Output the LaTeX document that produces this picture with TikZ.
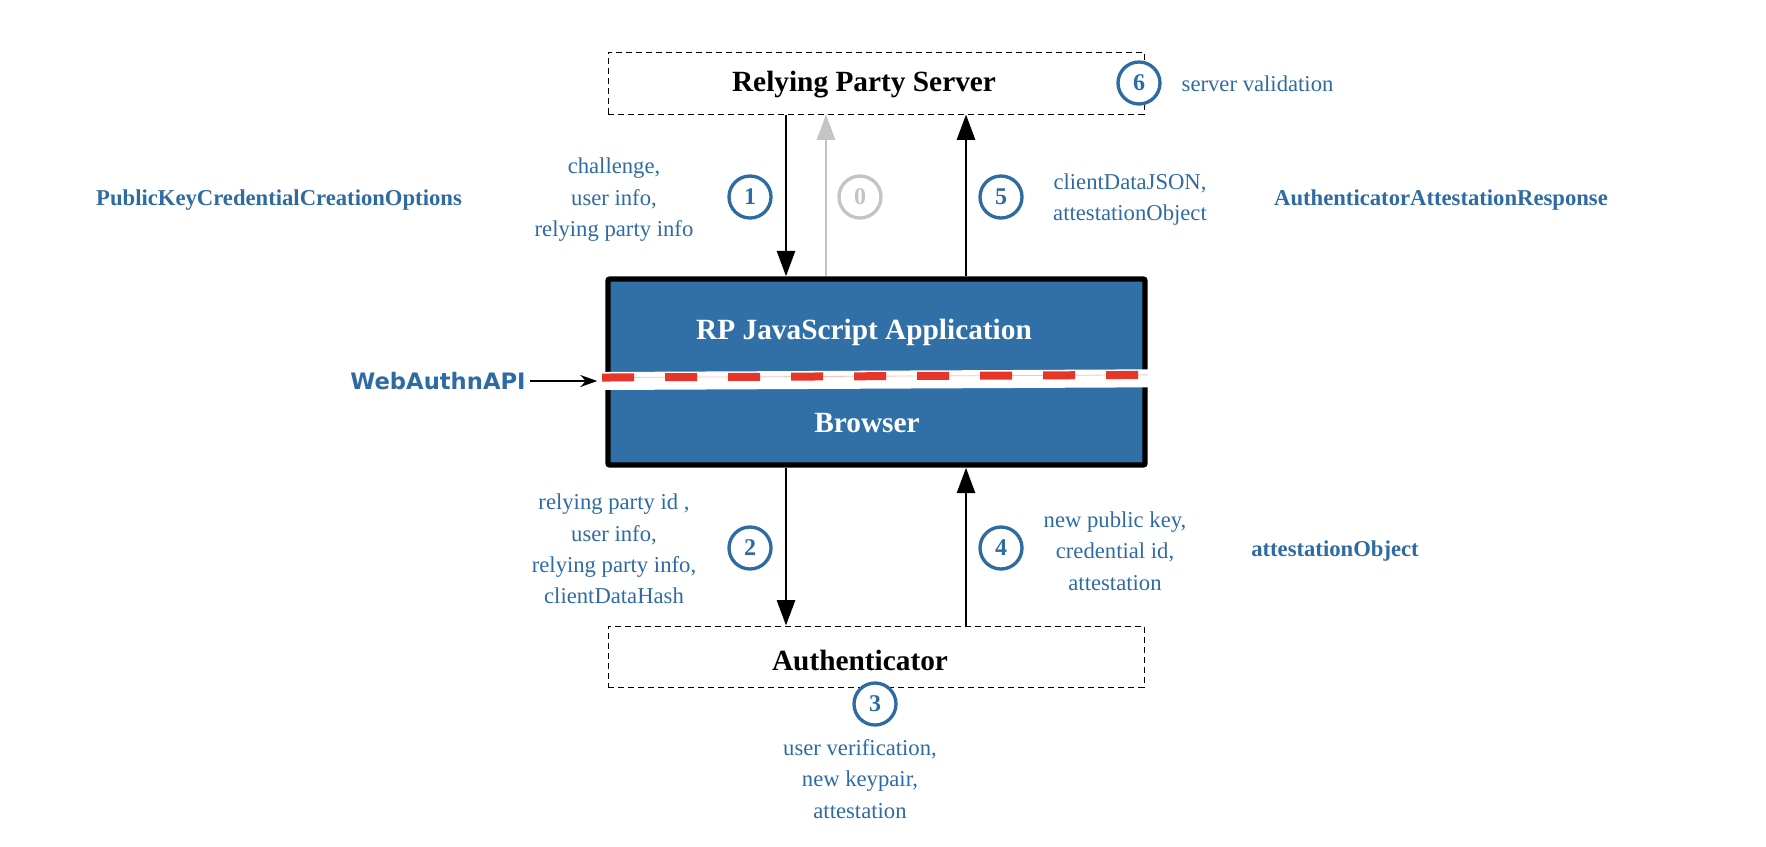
\documentclass[tikz,border=0pt]{standalone}
\usepackage{fontspec}
\setmainfont{Liberation Serif}
\newfontfamily\apifont{DejaVu Sans}
\usetikzlibrary{arrows.meta,positioning}

\begin{document}
\begin{tikzpicture}[x=0.75pt,y=-0.75pt,
  partybox/.style={draw=black,line width=0.75pt,dash pattern=on 4.5pt off 3pt,minimum width=402pt,inner sep=0pt},
  title/.style={font=\bfseries\fontsize{22}{26}\selectfont},
  info/.style={text=cblue,align=center,font=\fontsize{17}{23.6}\selectfont},
  apiname/.style={text=cblue,font=\bfseries\fontsize{17}{20}\selectfont},
  num/.style={circle,draw=cblue,fill=white,line width=2.5pt,text=cblue,minimum size=31.5pt,inner sep=0pt,font=\bfseries\fontsize{18}{18}\selectfont},
  flow/.style={draw=black,line width=2pt,-{Triangle[length=19pt,width=13.5pt]}},
]
%
\useasboundingbox (0,0) rectangle (1766,846);
%
\definecolor{cblue}{rgb}{0.18,0.42,0.64}
\definecolor{cfapp}{rgb}{0.19,0.44,0.65}
\definecolor{cgray}{rgb}{0.77,0.77,0.77}
\definecolor{cred}{rgb}{0.90,0.21,0.16}
%
\node[partybox,minimum height=46.5pt] (rps) at (876,83) {};
\node[title] (rpsname) at (864,85) {Relying Party Server};
\node[draw=black,fill=cfapp,line width=4.1pt,rounded corners=1.5pt,minimum width=402.75pt,minimum height=139.5pt,inner sep=0pt] (app) at (876.5,372) {};
\node[partybox,minimum height=45.75pt] (auth) at (876,656.5) {};
\node[title] (authname) at (860,660) {Authenticator};
%
\node[apiname] (api) at (438,381) {\apifont\bfseries WebAuthnAPI};
\draw[line width=13.5pt,white] ([xshift=-2.3pt]app.west |- api) -- ([xshift=1pt,yshift=2pt]app.east |- api);
\draw[line width=0.6pt,cred!30] ([xshift=-2.3pt,yshift=2.6pt]app.west |- api) -- ([yshift=4.6pt]app.east |- api);
\draw[line width=6pt,cred,dash pattern=on 24pt off 23.25pt] ([xshift=-2.3pt,yshift=2.6pt]app.west |- api) -- ([yshift=4.6pt]app.east |- api);
\node[title,text=white] (appname) at (864,332) {RP JavaScript Application};
\node[title,text=white] (browser) at (867,423) {Browser};
\draw[line width=1pt,-{Stealth[length=12.75pt,width=9pt]}] (api.east) -- ([xshift=-6pt]app.west |- api);
%
\coordinate (x1) at (786,0);
\coordinate (x0) at (826,0);
\coordinate (x5) at (966,0);
%
\draw[flow] (rps.south -| x1) -- (app.north -| x1);
\draw[flow,draw=cgray] (app.north -| x0) -- (rps.south -| x0);
\draw[flow] (app.north -| x5) -- (rps.south -| x5);
\draw[flow] (app.south -| x1) -- (auth.north -| x1);
\draw[flow] (auth.north -| x5) -- (app.south -| x5);
%
\node[num] (n6) at (1139,83) {6};
\node[info,anchor=west] (valid) at (1177,84) {server validation};
\node[num] (n1) at (750,197) {1};
\node[num,draw=cgray,text=cgray] (n0) at (860,197) {0};
\node[num] (n5) at (1001,197) {5};
\node[num] (n2) at (750,548) {2};
\node[num] (n4) at (1001,548) {4};
\node[num] (n3) at (875,704) {3};
%
\node[info] (req) at (614,200) {challenge,\\user info,\\relying party info};
\node[info] (resp) at (1130,199.5) {clientDataJSON,\\attestationObject};
\node[info] (make) at (614,549) {relying party id ,\\user info,\\relying party info,\\clientDataHash};
\node[info] (made) at (1115,551) {new public key,\\credential id,\\attestation};
\node[info] (gen) at (860,779) {user verification,\\new keypair,\\attestation};
%
\node[info,font=\bfseries\fontsize{17}{20}\selectfont] (opts) at (279,200) {PublicKeyCredentialCreationOptions};
\node[info,font=\bfseries\fontsize{17}{20}\selectfont] (aresp) at (1441,200) {AuthenticatorAttestationResponse};
\node[info,font=\bfseries\fontsize{17}{20}\selectfont] (aobj) at (1335,551) {attestationObject};
%
\end{tikzpicture}
\end{document}
